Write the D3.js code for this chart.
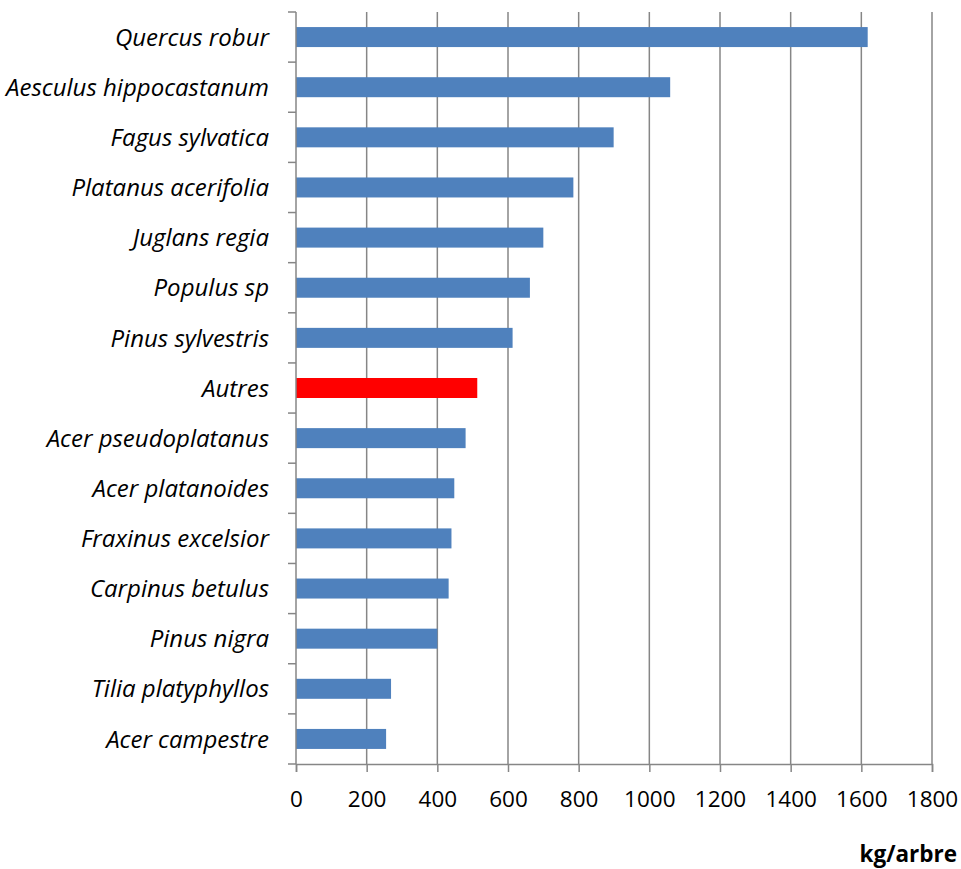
<!DOCTYPE html>
<html>
<head>
<meta charset="utf-8">
<script src="https://cdn.jsdelivr.net/npm/d3@7"></script>
<style>
  html, body { margin: 0; padding: 0; background: #fff; }
  svg { display: block; }
  text { font-family: "Open Sans", Lato, sans-serif; fill: #000; }
</style>
</head>
<body>
<svg id="chart" width="961" height="869"></svg>
<script>
// Species, top to bottom
const species = [
  "Quercus robur", "Aesculus hippocastanum", "Fagus sylvatica", "Platanus acerifolia",
  "Juglans regia", "Populus sp", "Pinus sylvestris", "Autres", "Acer pseudoplatanus",
  "Acer platanoides", "Fraxinus excelsior", "Carpinus betulus", "Pinus nigra",
  "Tilia platyphyllos", "Acer campestre"
];
// Mass per tree (kg)
const kgPerTree = [1618, 1059, 899, 785, 700, 662, 613, 513, 480, 448, 440, 432, 400, 269, 255];
const xTicks = [0, 200, 400, 600, 800, 1000, 1200, 1400, 1600, 1800];
const unitLabel = "kg/arbre";

const data = species.map((s, i) => ({ name: s, value: kgPerTree[i] }));

const svg = d3.select("#chart");
const W = 961, H = 869;
const margin = { left: 296, right: 29, top: 12, bottom: 105 };
const barH = 20;

const x = d3.scaleLinear().domain([0, 1800]).range([margin.left, W - margin.right]);
const y = d3.scaleBand().domain(species).range([margin.top, H - margin.bottom]);

const grey = "#868686";

// vertical gridlines
svg.append("g").selectAll("line").data(xTicks.slice(1)).join("line")
  .attr("x1", d => x(d)).attr("x2", d => x(d))
  .attr("y1", margin.top).attr("y2", H - margin.bottom)
  .attr("stroke", grey).attr("stroke-width", 1.5);

// bars
svg.append("g").selectAll("rect").data(data).join("rect")
  .attr("x", x(0))
  .attr("y", d => y(d.name) + (y.bandwidth() - barH) / 2)
  .attr("width", d => x(d.value) - x(0))
  .attr("height", barH)
  .attr("fill", d => d.name === "Autres" ? "#ff0000" : "#4f81bd");

// x axis
const xAxis = svg.append("g")
  .attr("transform", `translate(0,${H - margin.bottom})`)
  .call(d3.axisBottom(x).tickValues(xTicks).tickSize(8).tickPadding(19).tickFormat(d3.format("d")));
xAxis.select(".domain").attr("stroke", grey).attr("stroke-width", 1.5);
xAxis.selectAll(".tick line").attr("stroke", grey).attr("stroke-width", 1.5);
xAxis.selectAll("text")
  .style("font-size", "22.5px")
  .style("font-family", "'Open Sans', sans-serif")
  .attr("dy", "0.71em");

// y axis: line with ticks on band boundaries
const yAxisG = svg.append("g");
yAxisG.append("line")
  .attr("x1", x(0)).attr("x2", x(0))
  .attr("y1", margin.top).attr("y2", H - margin.bottom)
  .attr("stroke", grey).attr("stroke-width", 1.5);
const bounds = species.map(s => y(s)).concat([H - margin.bottom]);
yAxisG.selectAll("line.tk").data(bounds).join("line").attr("class", "tk")
  .attr("x1", x(0) - 8).attr("x2", x(0))
  .attr("y1", d => d).attr("y2", d => d)
  .attr("stroke", grey).attr("stroke-width", 1.5);

yAxisG.selectAll("text").data(species).join("text")
  .attr("x", 269)
  .attr("y", d => y(d) + y.bandwidth() / 2)
  .attr("dy", "0.36em")
  .attr("text-anchor", "end")
  .style("font-style", "italic")
  .style("font-size", "24px")
  .text(d => d);

svg.append("text")
  .attr("x", 957).attr("y", 862)
  .attr("text-anchor", "end")
  .style("font-weight", "bold")
  .style("font-size", "22.5px")
  .text(unitLabel);
</script>
</body>
</html>
